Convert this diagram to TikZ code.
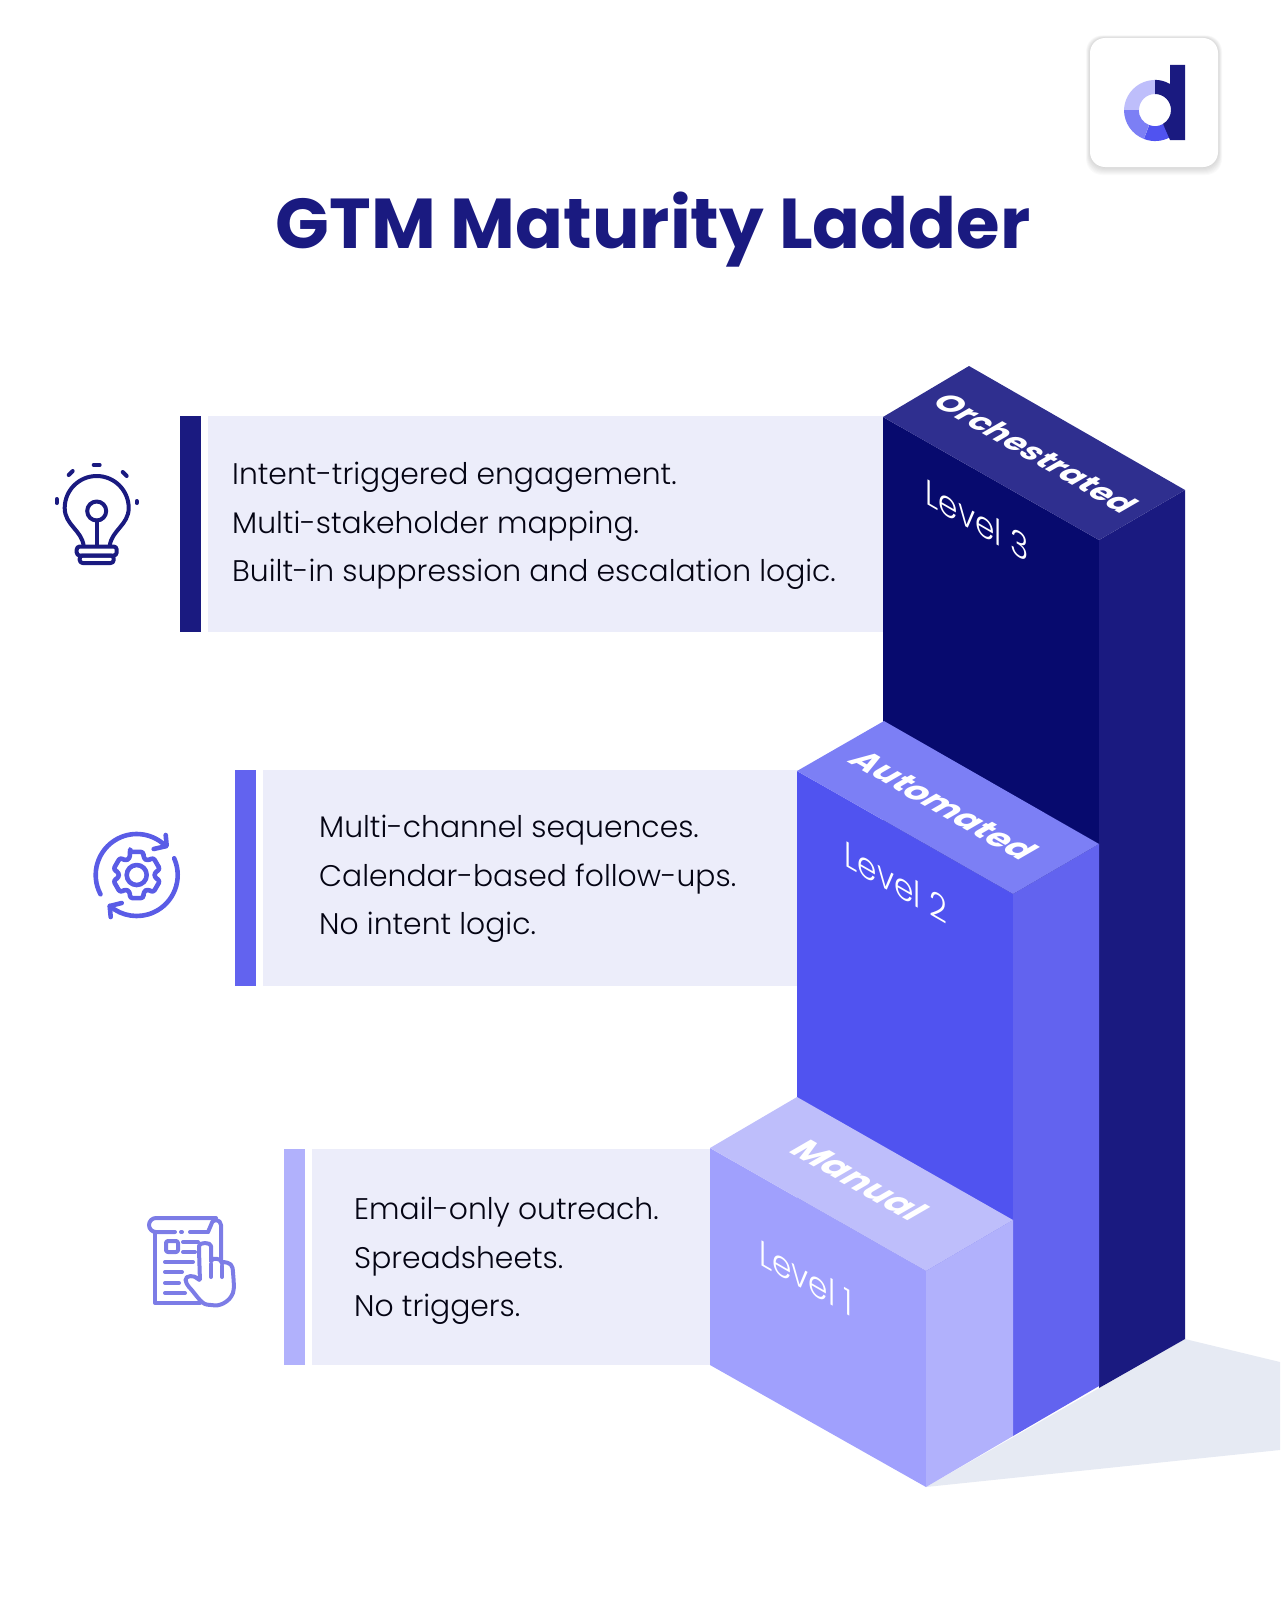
\documentclass[tikz,border=0pt]{standalone}
\usepackage{fontspec}
\setmainfont{Poppins Light}
\newfontfamily\headfont{Poppins}[BoldFont={Poppins Bold}]
\definecolor{navy}{HTML}{1A1A80}
\definecolor{navyfront}{HTML}{070A6E}
\definecolor{navytop}{HTML}{2F2F8F}
\definecolor{midfront}{HTML}{5053F0}
\definecolor{midside}{HTML}{6263EF}
\definecolor{midtop}{HTML}{7C7FF5}
\definecolor{palefront}{HTML}{A0A0FD}
\definecolor{paleside}{HTML}{B1B1FC}
\definecolor{paletop}{HTML}{BEBEFB}
\definecolor{panelbg}{HTML}{ECEDFA}
\definecolor{floorshade}{HTML}{E6EAF3}
\definecolor{gearline}{HTML}{5A5CE6}
\definecolor{docline}{HTML}{7C7CE6}
\tikzset{
  paneltext/.style={anchor=west,align=left,inner sep=0pt,text=black!85!navy,font=\fontsize{29.8}{48.5}\selectfont},
  leveltext/.style={text=white,font=\fontsize{36}{40}\selectfont,cm={.866,-.5,0,1,(0,0)}},
  toptext/.style={text=white,font=\headfont\bfseries\fontsize{#1}{#1}\selectfont,cm={.866,-.5,.866,.5,(0,0)}},
  iconline/.style={line width=4pt,line cap=round,line join=round},
}
\begin{document}
\begin{tikzpicture}[x=1pt,y=-1pt]
\useasboundingbox (0,0) rectangle (1280,1600);
\fill[floorshade] (926,1487) -- (1185,1339) -- (1280,1362) -- (1280,1450) -- cycle;
\foreach \r in {1,2,...,8}
  \fill[black,opacity=.018,rounded corners=16pt] (1090-\r/2,38-\r/3) rectangle (1218+\r/2,167+\r);
\fill[white,rounded corners=15pt] (1090,38) rectangle (1218,167);
\fill[paletop] (1155,80) arc[start angle=-90,end angle=-180,radius=31] -- (1139,110) arc[start angle=-180,end angle=-90,radius=16] -- cycle;
\fill[midtop] (1124,110) arc[start angle=180,end angle=111,radius=31] -- (1149,125) arc[start angle=111,end angle=180,radius=16] -- cycle;
\fill[midfront] (1144,139) arc[start angle=111,end angle=60,radius=31] -- (1163,124) arc[start angle=60,end angle=111,radius=16] -- cycle;
\fill[navy] (1155,80) -- (1155,94) arc[start angle=-90,end angle=60,radius=16] -- (1170,140) -- (1185,140) -- (1185,65) -- (1170,65) -- (1170,84) arc[start angle=-60,end angle=-90,radius=31] -- cycle;
\node[font=\headfont\bfseries\fontsize{70.6}{72}\selectfont,text=navy] (title) at (653,230) {GTM Maturity Ladder};
\fill[panelbg] (208,416) rectangle (884,632);
\fill[navy] (180,416) rectangle (201,632);
\fill[panelbg] (263,770) rectangle (798,986);
\fill[midside] (235,770) rectangle (256,986);
\fill[panelbg] (312,1149) rectangle (711,1365);
\fill[paleside] (284,1149) rectangle (305,1365);
\node[paneltext] (textthree) at (232,526) {Intent-triggered engagement.\\Multi-stakeholder mapping.\\Built-in suppression and escalation logic.};
\node[paneltext] (texttwo) at (319,879) {Multi-channel sequences.\\Calendar-based follow-ups.\\No intent logic.};
\node[paneltext] (textone) at (354,1261) {Email-only outreach.\\Spreadsheets.\\No triggers.};
\fill[navyfront] (883,417) -- (1099,540) -- (1099,1386) -- (883,1262) -- cycle;
\fill[navy] (1099,540) -- (1185,490) -- (1185,1339) -- (1099,1388) -- cycle;
\fill[navytop] (883,417) -- (969,366) -- (1185,490) -- (1099,540) -- cycle;
\fill[midfront] (797,771) -- (1013,894) -- (1013,1436) -- (797,1312) -- cycle;
\fill[midside] (1013,894) -- (1099,844) -- (1099,1386) -- (1013,1436) -- cycle;
\fill[midtop] (797,771) -- (884,721) -- (1099,844) -- (1013,894) -- cycle;
\fill[palefront] (710,1148) -- (926,1271) -- (926,1487) -- (710,1365) -- cycle;
\fill[paleside] (926,1271) -- (1013,1220) -- (1013,1436) -- (926,1487) -- cycle;
\fill[paletop] (710,1148) -- (797,1097) -- (1013,1220) -- (926,1271) -- cycle;
\node[toptext=32] (orchestrated) at (1036,453) {Orchestrated};
\node[toptext=34] (automated) at (944,805) {Automated};
\node[toptext=36] (manual) at (860,1180) {Manual};
\node[leveltext] (levelthree) at (977,520) {Level 3};
\node[leveltext] (leveltwo) at (896,882) {Level 2};
\node[leveltext] (levelone) at (806,1278) {Level 1};
\begin{scope}[iconline,navy,shift={(96.7,508)}]
\draw (-13,38) .. controls (-15,22) and (-32,17) .. (-32,0) arc[start angle=-180,end angle=0,radius=32] .. controls (32,17) and (15,22) .. (13,38);
\draw (0,3) circle[radius=9.5];
\draw (0,12.5) -- (0,38);
\draw[rounded corners=3pt] (-20,38.5) rectangle (20,47.5);
\draw[rounded corners=3pt] (-17,47.5) rectangle (17,55);
\draw (-3,-43) -- (3,-43);
\draw (-28,-33) -- (-24,-37);
\draw (26,-36) -- (30,-32);
\draw (-40,-9) -- (-40,-5);
\draw (40,-7) -- (40,-5);
\end{scope}
\begin{scope}[iconline,gearline,line width=4.6pt,shift={(136.7,875)}]
\draw (-208:41) arc[start angle=-208,end angle=-45,radius=41];
\draw (29,-40) -- (30,-29) -- (17,-26);
\draw (-24:41) arc[start angle=-24,end angle=131,radius=41];
\draw (-15,28) -- (-27,31) -- (-26,42);
\draw (0,0) circle[radius=10];
\draw[rounded corners=2.5pt] (-90-16:24) \foreach \a in {-90,-30,30,90,150,210} {-- (\a-16:24) -- (\a+16:24) -- (\a+23:18) -- (\a+37:18)} -- cycle;
\end{scope}
\begin{scope}[iconline,docline]
\draw (155,1232) -- (155,1303) -- (200,1303);
\draw (221,1263) -- (221,1225) arc[start angle=0,end angle=-180,radius=5] -- (208,1232);
\draw (216,1218) -- (156,1218) arc[start angle=-90,end angle=-270,radius=7] -- (175,1232);
\draw (181,1232) -- (182,1232);
\draw (190,1232) -- (208,1232);
\draw[rounded corners=2pt] (166,1241) rectangle (178,1252);
\draw (183,1242) -- (198,1242);
\draw (183,1252) -- (195,1252);
\draw (165,1262) -- (193,1262);
\draw (165,1272) -- (182,1272);
\draw (165,1283) -- (179,1283);
\draw (165,1293) -- (185,1293);
\draw[fill=white,rounded corners=4pt] (200,1282) -- (199,1250) .. controls (199,1242) and (211,1242) .. (211,1250) -- (211,1264) .. controls (212,1258) and (221,1258) .. (222,1266) .. controls (223,1262) and (232,1262) .. (233,1272) -- (234,1285) .. controls (233,1300) and (221,1306) .. (211,1305) .. controls (201,1304) and (195,1293) .. (186,1284) .. controls (185,1275) and (195,1275) .. cycle;
\draw (222,1266) -- (222,1277);
\draw (211,1264) -- (211,1277);
\end{scope}
\end{tikzpicture}
\end{document}
